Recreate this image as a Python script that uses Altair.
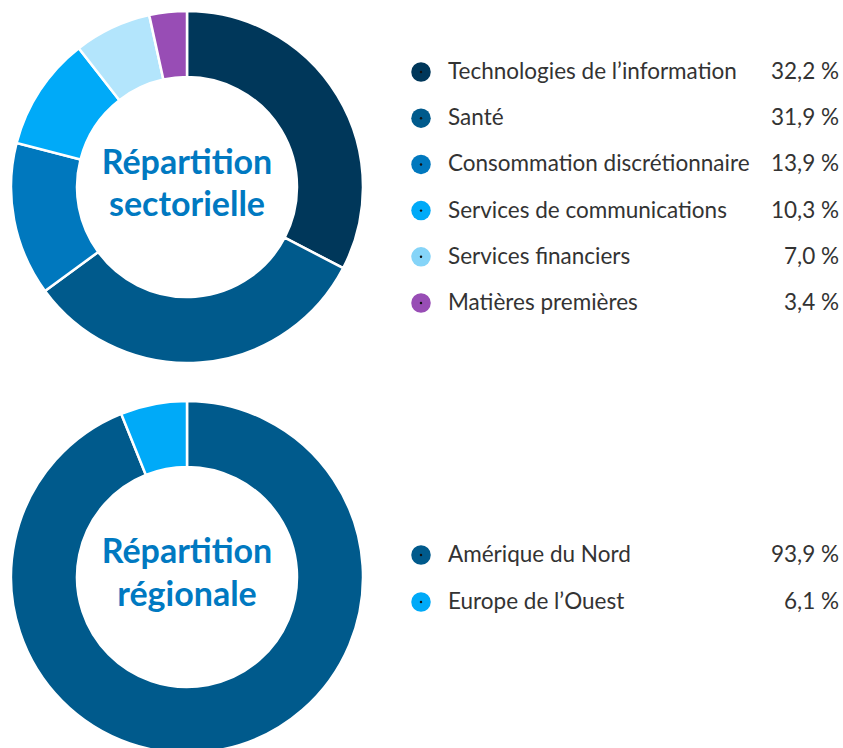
import altair as alt
import pandas as pd

sector_labels = ["Technologies de l\u2019information", "Santé", "Consommation discrétionnaire",
                 "Services de communications", "Services financiers", "Matières premières"]
sector_values = [32.2, 31.9, 13.9, 10.3, 7.0, 3.4]
sector_colors = ["#00375A", "#005A8C", "#0078BE", "#00AAF8", "#B3E5FC", "#984DB5"]
sector_legend_colors = ["#00375A", "#005A8C", "#0078BE", "#00AAF8", "#85D4F8", "#984DB5"]

region_labels = ["Amérique du Nord", "Europe de l\u2019Ouest"]
region_values = [93.9, 6.1]
region_colors = ["#005A8C", "#00AAF8"]

title_top = ["Répartition", "sectorielle"]
title_bottom = ["Répartition", "régionale"]

sec = pd.DataFrame({"label": sector_labels, "value": sector_values,
                    "idx": list(range(len(sector_labels)))})
reg = pd.DataFrame({"label": region_labels, "value": region_values,
                    "idx": list(range(len(region_labels)))})

FONT = "Lato"
TXT = "#333333"
BLUE = "#0079C1"

def donut(df, labels, colors, cy):
    return alt.Chart(df).mark_arc(radius=176, radius2=110, stroke="white", strokeWidth=2.5).encode(
        theta=alt.Theta("value:Q", stack=True, scale=alt.Scale(type="linear")),
        color=alt.Color("label:N", scale=alt.Scale(domain=labels, range=colors), legend=None),
        order=alt.Order("idx:Q"),
        x=alt.value(187), y=alt.value(cy),
    )

def center_text(lines, cx, y1, y2):
    t = pd.DataFrame({"t": lines, "row": [0, 1]})
    return alt.Chart(t).mark_text(font=FONT, fontWeight="bold", fontSize=34, color=BLUE,
                                  align="center", baseline="alphabetic").encode(
        text="t:N", x=alt.value(cx),
        y=alt.Y("row:Q", scale=alt.Scale(domain=[0, 1], range=[y1, y2]), axis=None),
    )

def legend(df, labels, colors, y0, y1):
    n = len(labels)
    ysc = alt.Scale(domain=[0, n - 1], range=[y0, y1])
    base = alt.Chart(df).transform_calculate(
        pct="replace(format(datum.value, '.1f'), '.', ',') + ' %'"
    )
    yenc = alt.Y("idx:Q", scale=ysc, axis=None)
    dots = base.mark_circle(size=380, opacity=1).encode(
        x=alt.value(421), y=yenc,
        color=alt.Color("label:N", scale=alt.Scale(domain=labels, range=colors), legend=None),
    )
    pin = base.mark_circle(size=6, opacity=1, color="#111111").encode(x=alt.value(421), y=yenc)
    lab = base.mark_text(font=FONT, fontSize=22.5, color=TXT, align="left", baseline="middle").encode(
        text="label:N", x=alt.value(448), y=yenc)
    pct = base.mark_text(font=FONT, fontSize=22.5, color=TXT, align="right", baseline="middle").encode(
        text="pct:N", x=alt.value(839), y=yenc)
    return [dots, pin, lab, pct]

layers = [
    donut(sec, sector_labels, sector_colors, 187),
    donut(reg, region_labels, region_colors, 577),
    center_text(title_top, 187, 174, 216),
    center_text(title_bottom, 187, 563, 606),
] + legend(sec, sector_labels, sector_legend_colors, 72, 303) \
  + legend(reg, region_labels, region_colors, 555, 602)

chart = alt.layer(*layers).resolve_scale(
    theta="independent", color="independent", y="independent"
).properties(
    width=843, height=748, padding=0, autosize=alt.AutoSizeParams(type="none"),
    background="white"
).configure_view(stroke=None)

chart.save("out.html", embed_options={"renderer": "svg", "actions": False})
